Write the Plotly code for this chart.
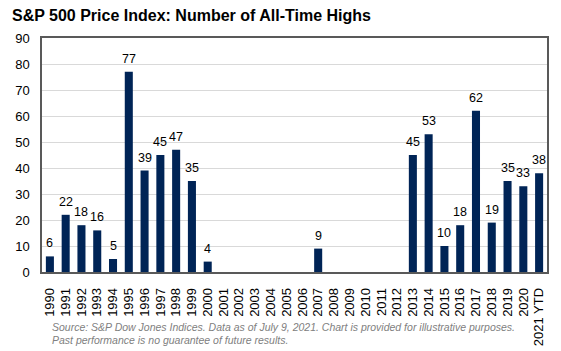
import plotly.graph_objects as go

years = ["1990","1991","1992","1993","1994","1995","1996","1997","1998","1999","2000",
         "2001","2002","2003","2004","2005","2006","2007","2008","2009","2010","2011",
         "2012","2013","2014","2015","2016","2017","2018","2019","2020","2021 YTD"]
highs = [6,22,18,16,5,77,39,45,47,35,4,0,0,0,0,0,0,9,0,0,0,0,0,45,53,10,18,62,19,35,33,38]
y_ticks = [0,10,20,30,40,50,60,70,80,90]

W, H = 561, 351
L, R, T, B = 42, 14, 38, 79
ph = H - T - B
FONT = "Liberation Sans, Arial"

fig = go.Figure(go.Bar(
    x=years, y=highs,
    marker=dict(color="#002456", line=dict(width=0)),
    cliponaxis=False,
))

# value labels above bars (non-zero values only); x is the category index
value_annos = [
    dict(x=i, y=v, text=str(v), xref="x", yref="y", showarrow=False,
         yanchor="bottom", yshift=4, font=dict(family=FONT, size=12.5, color="#000000"))
    for i, v in enumerate(highs) if v > 0
]

foot_x = (50 - L) / (W - L - R)
notes = [
    dict(text="<i>Source: S&P Dow Jones Indices. Data as of July 9, 2021. Chart is provided for illustrative purposes.</i>",
         xref="paper", yref="paper", x=foot_x, y=-(327 - (H - B)) / ph,
         xanchor="left", yanchor="middle", showarrow=False,
         font=dict(family=FONT, size=10.5, color="#808080")),
    dict(text="<i>Past performance is no guarantee of future results.</i>",
         xref="paper", yref="paper", x=foot_x, y=-(340 - (H - B)) / ph,
         xanchor="left", yanchor="middle", showarrow=False,
         font=dict(family=FONT, size=10.5, color="#808080")),
]

fig.update_layout(
    width=W, height=H,
    margin=dict(l=L, r=R, t=T, b=B),
    paper_bgcolor="white", plot_bgcolor="white",
    bargap=0.49,
    showlegend=False,
    font=dict(family=FONT, size=13, color="#000000"),
    title=dict(text="<b>S&P 500 Price Index: Number of All-Time Highs</b>",
               xref="container", yref="container", x=12 / W, xanchor="left",
               y=1 - 15 / H, yanchor="middle",
               font=dict(family=FONT, size=16, color="#000000")),
    xaxis=dict(type="category", tickangle=-90, showgrid=False, automargin=False,
               categoryorder="array", categoryarray=years,
               range=[-0.5, len(years) - 0.5],
               tickmode="array", tickvals=years, ticktext=years,
               showline=True, linecolor="#595959", linewidth=1.5, mirror=True,
               ticks="", ticklabelstandoff=9, tickfont=dict(size=13, color="#000000")),
    yaxis=dict(range=[0, 90], tickvals=y_ticks, showgrid=True, gridcolor="#d9d9d9",
               gridwidth=1, showline=True, linecolor="#595959", linewidth=1.5, mirror=True,
               ticks="", ticklabelstandoff=8, zeroline=False, automargin=False,
               tickfont=dict(size=13, color="#000000")),
    annotations=value_annos + notes,
)

fig.write_html("out.html")
